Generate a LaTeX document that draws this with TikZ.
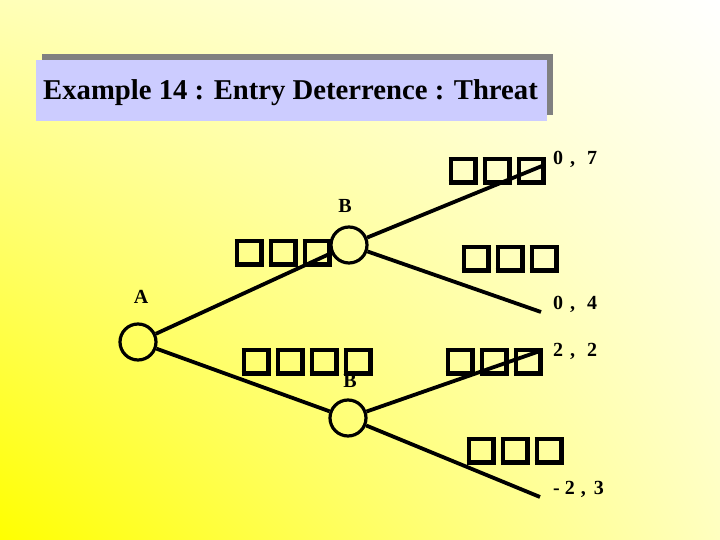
\documentclass[tikz,border=0pt]{standalone}
\usepackage{fontspec}
\setmainfont{Liberation Serif}
\usetikzlibrary{shadings}
\definecolor{lav}{RGB}{204,204,255}
\definecolor{shadowgray}{RGB}{128,128,128}
\newcommand\tofubox{{\setlength\fboxrule{4.5pt}\setlength\fboxsep{0pt}\fbox{\rule{0pt}{19pt}\hspace{20pt}}}}
\newcommand\tofugap{\hspace{5pt}}
\begin{document}
\begin{tikzpicture}[x=1pt,y=1pt,
  tree/.style={line width=3.8pt},
  state/.style={circle,draw,line width=3.2pt,minimum size=36pt,inner sep=0pt},
  lbl/.style={font=\fontsize{20}{24}\selectfont\bfseries,anchor=base,inner sep=0pt},
  tofu/.style={inner sep=0pt,anchor=center}]
\useasboundingbox (0,0) rectangle (720,540);
\shade[upper left=yellow!28!white, upper right=white, lower left=yellow, lower right=yellow!25!white] (0,0) rectangle (720,540);
% title
\fill[shadowgray] (42,425) rectangle (553,486);
\fill[lav] (36,419) rectangle (547,480);
\node[anchor=base,inner sep=0pt,font=\fontsize{28.7}{32}\selectfont\bfseries] (title) at (290.5,440) {Example 14 : Entry Deterrence : Threat};
% nodes
\node[state] (A) at (138,198) {};
\node[state] (B1) at (349,295) {};
\node[state] (B2) at (348,122) {};
\coordinate (e1) at (542,374);
\coordinate (e2) at (541,228);
\coordinate (e3) at (540,189);
\coordinate (e4) at (540,43);
% labels
\node[lbl] (lA) at (141,236) {A};
\node[lbl] (lB1) at (345,327) {B};
\node[lbl] (lB2) at (350,152) {B};
\node[lbl,anchor=base west] (p1) at (553,375) {0\hspace{7pt},\hspace{12pt}7};
\node[lbl,anchor=base west] (p2) at (553,230) {0\hspace{7pt},\hspace{12pt}4};
\node[lbl,anchor=base west] (p3) at (553,183) {2\hspace{7pt},\hspace{12pt}2};
\node[lbl,anchor=base west] (p4) at (553,45) {-\hspace{5pt}2\hspace{6pt},\hspace{8pt}3};
% edges
\draw[tree] (A) -- (B1);
\draw[tree] (A) -- (B2);
\draw[tree] (B1) -- (e1);
\draw[tree] (B1) -- (e2);
\draw[tree] (B2) -- (e3);
\draw[tree] (B2) -- (e4);
% unrendered glyphs
\node[tofu] (t1) at (497,369) {\tofubox\tofugap\tofubox\tofugap\tofubox};
\node[tofu] (t2) at (283,287) {\tofubox\tofugap\tofubox\tofugap\tofubox};
\node[tofu] (t3) at (510,281) {\tofubox\tofugap\tofubox\tofugap\tofubox};
\node[tofu] (t4) at (307,178) {\tofubox\tofugap\tofubox\tofugap\tofubox\tofugap\tofubox};
\node[tofu] (t5) at (494,178) {\tofubox\tofugap\tofubox\tofugap\tofubox};
\node[tofu] (t6) at (515,89) {\tofubox\tofugap\tofubox\tofugap\tofubox};
\end{tikzpicture}
\end{document}
